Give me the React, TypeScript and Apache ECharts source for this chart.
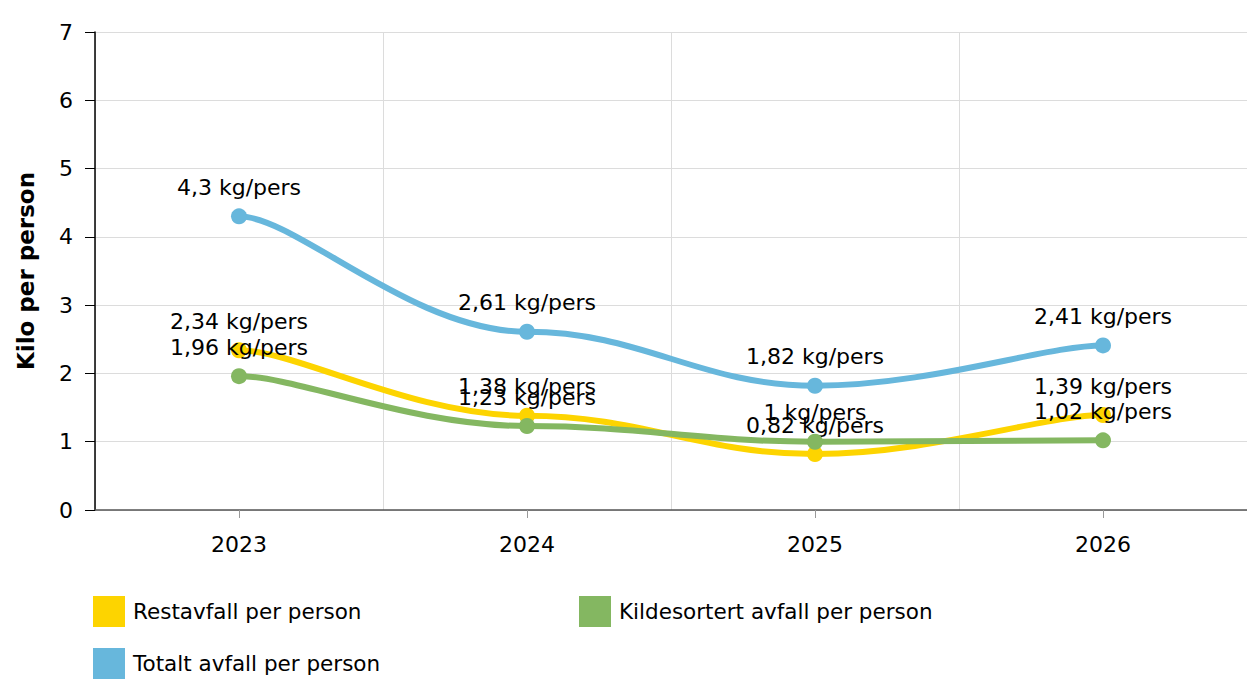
import React, { useEffect, useRef } from "react";
import * as echarts from "echarts";

const years = ["2023", "2024", "2025", "2026"];
const restavfall = [2.34, 1.38, 0.82, 1.39];
const kildesortert = [1.96, 1.23, 1, 1.02];
const totalt = [4.3, 2.61, 1.82, 2.41];
const seriesNames = ["Restavfall per person", "Kildesortert avfall per person", "Totalt avfall per person"];
const colors = ["#fdd400", "#84b761", "#67b7dc"];

const FONT = "DejaVu Sans";
const TENSION = 0.2;

function fmt(v: number) {
  return String(v).replace(".", ",") + " kg/pers";
}

export default function App() {
  const ref = useRef<HTMLDivElement>(null);
  useEffect(() => {
    document.body.style.margin = "0";
    const chart = echarts.init(ref.current!, null, { renderer: "svg" });

    const points = (name: string, data: number[], color: string, z: number) => ({
      name,
      type: "line",
      data,
      symbol: "circle",
      symbolSize: 16,
      z,
      itemStyle: { color },
      lineStyle: { color, width: 0, opacity: 0 },
      label: {
        show: true,
        position: "top",
        distance: 10,
        color: "#000",
        fontFamily: FONT,
        fontSize: 22,
        formatter: (p: any) => fmt(p.value),
      },
      emphasis: { disabled: true },
    });

    const curve = (name: string, data: number[], color: string, z: number) => ({
      name: name + " (kurve)",
      type: "custom",
      z,
      silent: true,
      data: data.map((v, i) => [i, v]),
      encode: { x: 0, y: 1 },
      renderItem: (params: any, api: any) => {
        const i = params.dataIndex;
        if (i >= data.length - 1) return null;
        const pt = (k: number) => api.coord([k, data[k]]);
        const p0 = pt(Math.max(i - 1, 0));
        const p1 = pt(i);
        const p2 = pt(i + 1);
        const p3 = pt(Math.min(i + 2, data.length - 1));
        return {
          type: "bezierCurve",
          shape: {
            x1: p1[0],
            y1: p1[1],
            x2: p2[0],
            y2: p2[1],
            cpx1: p1[0] + TENSION * (p2[0] - p0[0]),
            cpy1: p1[1],
            cpx2: p2[0] - TENSION * (p3[0] - p1[0]),
            cpy2: p2[1],
          },
          style: { stroke: color, lineWidth: 6, fill: null, lineCap: "round" },
        };
      },
    });

    const legendBase = {
      icon: "rect",
      itemWidth: 32,
      itemHeight: 31,
      itemGap: 7,
      padding: 0,
      textStyle: { fontFamily: FONT, fontSize: 21.5, color: "#000", padding: [0, 0, 0, 3] },
      selectedMode: false,
    };
    chart.setOption({
      animation: false,
      textStyle: { fontFamily: FONT },
      color: colors,
      grid: { left: 95, right: 0, top: 32, bottom: 176, containLabel: false },
      legend: [
        { ...legendBase, data: [seriesNames[0]], left: 93, top: 596 },
        { ...legendBase, data: [seriesNames[1]], left: 579, top: 596 },
        { ...legendBase, data: [seriesNames[2]], left: 93, top: 648 },
      ],
      xAxis: {
        type: "category",
        data: years,
        boundaryGap: true,
        axisLine: { show: true, lineStyle: { color: "#555", width: 1.5 } },
        axisTick: { show: true, alignWithLabel: true, length: 8, lineStyle: { color: "#999" } },
        axisLabel: { fontFamily: FONT, fontSize: 22, color: "#000", margin: 23 },
        splitLine: { show: true, lineStyle: { color: "#dcdcdc", width: 1 } },
      },
      yAxis: {
        type: "value",
        min: 0,
        max: 7,
        interval: 1,
        name: "Kilo per person",
        nameLocation: "middle",
        nameGap: 58,
        nameRotate: 90,
        nameTextStyle: { fontFamily: FONT, fontSize: 23, fontWeight: "bold", color: "#000" },
        axisLine: { show: true, lineStyle: { color: "#000", width: 1.5 } },
        axisTick: { show: true, length: 10, lineStyle: { color: "#000" } },
        axisLabel: { fontFamily: FONT, fontSize: 22, color: "#000", margin: 22 },
        splitLine: { show: true, lineStyle: { color: "#dcdcdc", width: 1 } },
      },
      series: [
        curve(seriesNames[0], restavfall, colors[0], 2),
        curve(seriesNames[1], kildesortert, colors[1], 3),
        curve(seriesNames[2], totalt, colors[2], 4),
        points(seriesNames[0], restavfall, colors[0], 5),
        points(seriesNames[1], kildesortert, colors[1], 6),
        points(seriesNames[2], totalt, colors[2], 7),
      ],
    });
    return () => chart.dispose();
  }, []);
  return (
    <div
      ref={ref}
      style={{ position: "absolute", left: 0, top: 0, width: 1247, height: 686 }}
    />
  );
}
